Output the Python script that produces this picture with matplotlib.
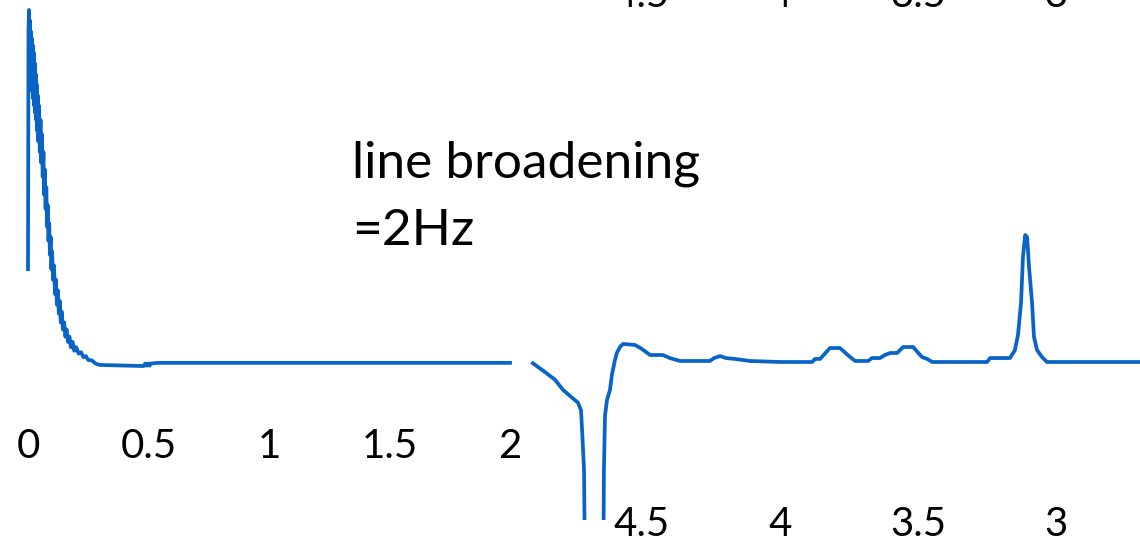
import numpy as np
import matplotlib.pyplot as plt

plt.rcParams["font.family"] = ["Lato", "DejaVu Sans"]

BLUE = "#0a64c8"

# FID (left panel): time in s, signal in a.u.
fid_t = [0.000, 0.002, 0.004, 0.006, 0.008, 0.010, 0.012, 0.014, 0.016, 0.018,
         0.020, 0.022, 0.024, 0.026, 0.028, 0.030, 0.032, 0.034, 0.036, 0.038,
         0.040, 0.043, 0.046, 0.049, 0.052, 0.055, 0.058, 0.061, 0.064, 0.067,
         0.070, 0.073, 0.076, 0.079, 0.082, 0.085, 0.088, 0.091, 0.094, 0.097,
         0.100, 0.104, 0.108, 0.112, 0.116, 0.120, 0.124, 0.128, 0.132, 0.136,
         0.140, 0.145, 0.150, 0.155, 0.160, 0.166, 0.172, 0.178, 0.185, 0.192,
         0.200, 0.210, 0.220, 0.230, 0.240, 0.250, 0.265, 0.280, 0.298, 0.480,
         0.486, 0.492, 0.498, 0.504, 0.510, 0.540, 1.000, 1.500, 2.000]
fid_v = [0.27, 0.94, 1.00, 0.83, 0.97, 0.81, 0.94, 0.79, 0.92, 0.77,
         0.90, 0.75, 0.88, 0.73, 0.85, 0.71, 0.82, 0.69, 0.79, 0.66,
         0.76, 0.63, 0.73, 0.60, 0.69, 0.57, 0.65, 0.53, 0.60, 0.48,
         0.55, 0.44, 0.50, 0.39, 0.45, 0.35, 0.40, 0.31, 0.36, 0.27,
         0.32, 0.24, 0.28, 0.20, 0.24, 0.17, 0.21, 0.145, 0.18, 0.12,
         0.15, 0.10, 0.12, 0.08, 0.10, 0.065, 0.08, 0.05, 0.065, 0.04,
         0.05, 0.032, 0.036, 0.022, 0.025, 0.014, 0.013, 0.004, 0.0, -0.003,
         0.004, -0.002, 0.004, -0.002, 0.004, 0.006, 0.006, 0.006, 0.006]

# spectrum (right panel): chemical shift in ppm, signal in a.u.
spec_l_ppm = [4.895, 4.851, 4.815, 4.786, 4.754, 4.732, 4.721, 4.717, 4.710, 4.705]
spec_l_v = [-0.01, -0.08, -0.14, -0.22, -0.28, -0.32, -0.38, -0.54, -0.85, -2.0]

spec_r_ppm = [4.641, 4.638, 4.634, 4.627, 4.616, 4.609, 4.598, 4.591, 4.580, 4.569,
              4.525, 4.500, 4.471, 4.424, 4.399, 4.362, 4.254, 4.239, 4.217, 4.196,
              4.163, 4.109, 4.000, 3.884, 3.873, 3.855, 3.819, 3.783, 3.746, 3.728,
              3.681, 3.667, 3.638, 3.620, 3.601, 3.576, 3.554, 3.518, 3.486, 3.467,
              3.449, 3.250, 3.239, 3.167, 3.149, 3.138, 3.127, 3.120, 3.112, 3.105,
              3.098, 3.087, 3.080, 3.069, 3.051, 3.033, 2.696]
spec_r_v = [-2.0, -0.85, -0.42, -0.30, -0.22, -0.10, 0.016, 0.071, 0.118, 0.142,
            0.134, 0.102, 0.055, 0.055, 0.031, 0.008, 0.008, 0.031, 0.047, 0.031,
            0.024, 0.008, 0.0, 0.0, 0.024, 0.024, 0.110, 0.110, 0.039, 0.008,
            0.008, 0.031, 0.031, 0.055, 0.071, 0.071, 0.118, 0.118, 0.039, 0.024,
            0.0, 0.0, 0.031, 0.031, 0.094, 0.213, 0.465, 0.827, 1.0, 0.984,
            0.748, 0.465, 0.197, 0.094, 0.039, 0.0, 0.0]

fid_ticks = [0, 0.5, 1, 1.5, 2]
fid_labels = ["0", "0.5", "1", "1.5", "2"]
ppm_ticks = [4.5, 4, 3.5, 3]
ppm_labels = ["4.5", "4", "3.5", "3"]

W, H = 1140, 542
fig = plt.figure(figsize=(W / 100, H / 100), dpi=100)


def px_axes(x0, x1, ytop, ybot):
    return fig.add_axes([x0 / W, 1 - ybot / H, (x1 - x0) / W, (ybot - ytop) / H])


def clean(ax):
    for s in ax.spines.values():
        s.set_visible(False)
    ax.set_yticks([])
    ax.tick_params(axis="x", length=0, labelsize=29)


# left: FID
ax1 = px_axes(28, 510, 5, 420)
ax1.plot(fid_t, fid_v, color=BLUE, lw=2.7, clip_on=False)
ax1.set_xlim(0, 2)
ax1.set_ylim(-0.155, 1.014)
ax1.set_xticks(fid_ticks, fid_labels)
clean(ax1)
ax1.tick_params(axis="x", pad=6)

# right: spectrum, top labels run off the figure edge
ax2 = px_axes(520, 1140, 0, 520)
ax2.plot(spec_l_ppm, spec_l_v, color=BLUE, lw=2.7)
ax2.plot(spec_r_ppm, spec_r_v, color=BLUE, lw=2.7)
ax2.set_xlim(4.942, 2.696)
ax2.set_ylim(-1.244, 2.85)
ax2.set_xticks(ppm_ticks, ppm_labels)
clean(ax2)
ax2.tick_params(axis="x", pad=-10, labeltop=True)

fig.text(352 / W, 1 - 141 / H, "line broadening\n=2Hz", fontsize=37,
         va="top", ha="left", linespacing=1.55)

fig.savefig("out.png", dpi=100)
